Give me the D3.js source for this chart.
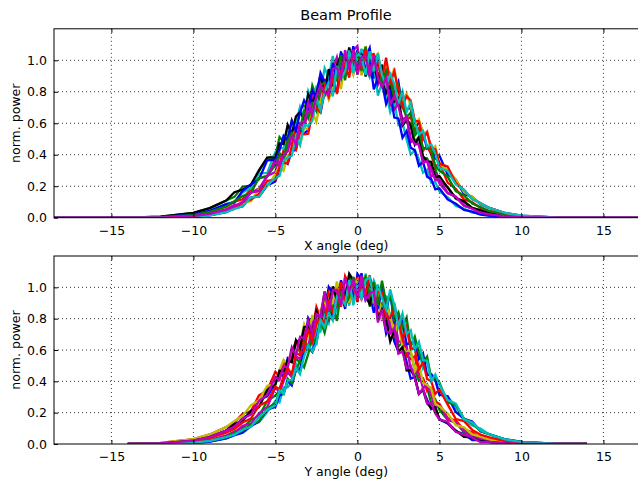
<!DOCTYPE html>
<html>
<head>
<meta charset="utf-8">
<script src="https://d3js.org/d3.v7.min.js"></script>
<style>
  body { margin: 0; background: #fff; }
  text { font-family: "DejaVu Sans", sans-serif; fill: #000; }
</style>
</head>
<body>
<div id="chart"></div>
<script>
var width = 638,
  height = 483;

// sample angles (deg) of each scan
var xAngles = [-18.5,-14,-12,-10,-9,-8,
  -7.5,-7,-6.5,-6,-5.5,-5,-4.75,-4.5,-4.25,-4,-3.75,-3.5,-3.25,-3,-2.75,-2.5,-2.25,-2,-1.75,-1.5,-1.25,-1,-0.75,-0.5,-0.25,
  0,0.25,0.5,0.75,1,1.25,1.5,1.75,2,2.25,2.5,2.75,3,3.25,3.5,3.75,4,4.25,4.5,4.75,5,5.5,6,6.5,7,7.5,
  8,9,10,12,14,18.5];
var yAngles = [-14,-12,-10,-9,-8,
  -7.5,-7,-6.5,-6,-5.5,-5,-4.75,-4.5,-4.25,-4,-3.75,-3.5,-3.25,-3,-2.75,-2.5,-2.25,-2,-1.75,-1.5,-1.25,-1,-0.75,-0.5,-0.25,
  0,0.25,0.5,0.75,1,1.25,1.5,1.75,2,2.25,2.5,2.75,3,3.25,3.5,3.75,4,4.25,4.5,4.75,5,5.5,6,6.5,7,7.5,
  8,9,10,12,14];

var angleTicks = [-15, -10, -5, 0, 5, 10, 15];
var powerTicks = [0, 0.2, 0.4, 0.6, 0.8, 1.0];

// matplotlib classic cycle: b g r c m y k
var lineColors = ['#0000ff', '#008000', '#ff0000', '#00bfbf', '#bf00bf', '#bfbf00', '#000000'];

// normalised power of each scan, X axis
var xScans = [
  [0,0,.001,.006,.015,.036, .061,.072,.128,.134,.204,.23,.31,.362,.342,.424,.43,.558,.536,.556,.672,.761,.667,.799,.876,.816,.806,.972,1.042,.95,.92,1.065,.955,1.02,1.079,.885,1.0,.863,.97,.892,.797,.863,.697,.689,.697,.561,.611,.538,.439,.456,.374,.395,.274,.242,.151,.133,.086, .064,.03,.013,.002,0,0],
  [0,.001,.007,.031,.061,.109, .132,.198,.202,.295,.381,.391,.513,.482,.507,.616,.559,.689,.712,.679,.84,.77,.892,.781,.922,.97,.879,1.056,.936,.968,1.066,.91,1.042,1.076,.901,.969,.872,.95,.826,.871,.702,.742,.587,.621,.597,.478,.513,.381,.377,.315,.309,.234,.196,.12,.099,.061,.049, .029,.011,.004,0,0,0],
  [0,0,.003,.017,.037,.072, .102,.117,.182,.252,.264,.375,.341,.429,.513,.457,.568,.567,.568,.718,.725,.712,.856,.77,.902,.799,.985,.965,.917,1.069,.922,.975,1.068,.907,1.032,1.039,.904,.945,.80,.92,.794,.803,.792,.622,.64,.549,.57,.426,.455,.401,.319,.349,.223,.184,.116,.098,.062, .044,.019,.007,.001,0,0],
  [0,0,.004,.021,.044,.086, .102,.161,.188,.282,.285,.418,.448,.438,.576,.535,.593,.703,.623,.804,.74,.831,.796,.951,.889,1.028,.87,1.022,.945,1.065,1.023,.928,1.074,.942,.893,.973,.776,.858,.793,.671,.741,.589,.604,.496,.403,.428,.37,.286,.305,.222,.226,.167,.131,.075,.058,.032,.027, .013,.004,.001,0,0,0],
  [0,0,.001,.01,.024,.053, .081,.086,.159,.185,.265,.29,.40,.37,.45,.521,.465,.598,.579,.678,.78,.715,.772,.883,.78,.945,1.02,.887,.998,.945,1.065,1.09,.906,1.03,.944,1.01,.843,.898,.904,.753,.687,.725,.624,.641,.479,.497,.464,.366,.361,.26,.284,.218,.155,.133,.078,.059,.03, .022,.008,.003,0,0,0],
  [0,0,.001,.009,.02,.044, .06,.093,.105,.181,.196,.278,.333,.299,.397,.407,.513,.46,.572,.561,.674,.608,.739,.833,.75,.823,.921,.817,1.003,1.003,.908,1.012,.907,1.09,.952,1.011,1.041,.884,.972,.873,.951,.788,.728,.79,.709,.589,.625,.536,.544,.43,.454,.342,.303,.243,.162,.132,.088, .064,.029,.012,.002,0,0],
  [0,.001,.007,.031,.061,.109, .162,.178,.209,.302,.381,.381,.472,.468,.59,.534,.642,.672,.624,.785,.735,.787,.909,.803,.944,.835,.97,1.034,.936,1.081,.975,.932,1.042,.896,1.037,.969,.872,.972,.791,.836,.737,.76,.587,.621,.584,.465,.513,.391,.357,.355,.256,.264,.191,.125,.104,.063,.047, .029,.011,.004,0,0,0],
  [0,0,.004,.021,.044,.086, .097,.171,.211,.244,.365,.368,.428,.52,.493,.618,.552,.668,.746,.699,.81,.76,.919,.86,.844,.983,.87,1.045,1.013,.952,1.09,.928,1.029,.942,1.006,.815,.889,.858,.722,.794,.636,.631,.508,.551,.444,.428,.33,.356,.26,.245,.18,.187,.116,.088,.05,.038,.019, .013,.004,.001,0,0,0],
  [0,0,.003,.017,.037,.072, .104,.137,.157,.252,.264,.335,.411,.379,.486,.539,.499,.567,.678,.63,.725,.677,.839,.858,.789,.912,.872,1.032,.872,1.047,.967,1.043,.932,1.087,.942,.948,1.017,.832,.935,.875,.759,.838,.704,.64,.667,.522,.557,.44,.445,.431,.329,.299,.261,.169,.141,.09,.068, .044,.019,.007,.001,0,0],
  [0,0,.001,.009,.02,.044, .055,.098,.115,.151,.234,.24,.323,.349,.347,.457,.43,.542,.53,.534,.661,.696,.668,.833,.768,.894,.786,.93,.98,.89,1.066,.966,.952,1.068,.907,1.033,.996,.884,1.017,.851,.929,.805,.711,.772,.744,.616,.611,.495,.544,.444,.434,.342,.325,.22,.177,.117,.094, .064,.029,.012,.002,0,0],
  [0,0,.001,.006,.015,.036, .056,.072,.128,.134,.209,.252,.265,.362,.382,.394,.513,.462,.591,.583,.616,.761,.684,.799,.858,.771,.964,.882,.929,1.063,.92,1.042,1.023,.907,1.057,.93,1.045,.908,.834,.914,.85,.723,.803,.672,.732,.602,.529,.552,.452,.466,.404,.315,.297,.211,.176,.118,.092, .064,.03,.013,.002,0,0],
  [0,0,.001,.01,.024,.053, .071,.101,.159,.17,.265,.36,.33,.40,.42,.521,.465,.598,.606,.73,.657,.768,.843,.795,.78,.945,.953,.887,1.065,.945,1.065,.91,1.019,1.03,.899,1.032,.888,.83,.887,.718,.775,.708,.597,.641,.506,.469,.464,.346,.361,.31,.238,.241,.16,.133,.076,.057,.032, .022,.008,.003,0,0,0]
];

// normalised power of each scan, Y axis
var yScans = [
  [0,.004,.021,.044,.086, .107,.166,.195,.282,.305,.388,.468,.424,.549,.535,.648,.668,.623,.804,.757,.848,.796,.838,1.002,.961,.892,1.045,.967,1.042,.91,1.086,1.052,.92,.961,.837,.956,.858,.705,.777,.653,.589,.618,.524,.417,.428,.32,.346,.283,.222,.233,.157,.131,.08,.063,.025,.027, .013,.004,.001,0,0],
  [0,.001,.01,.024,.053, .079,.101,.154,.18,.273,.31,.34,.43,.45,.439,.548,.515,.661,.625,.692,.82,.737,.848,.915,.81,.998,.932,.93,1.08,.929,1.045,.973,1.053,.877,1.032,.866,.898,.781,.823,.793,.62,.652,.558,.589,.469,.404,.416,.361,.26,.284,.218,.155,.138,.073,.057,.04, .022,.008,.003,0,0],
  [.001,.007,.031,.061,.109, .137,.193,.209,.31,.341,.461,.43,.524,.494,.589,.655,.584,.729,.714,.717,.875,.804,.894,.967,.857,.992,.876,1.071,1.014,.953,1.068,.929,.963,1.059,.991,.827,.837,.897,.819,.685,.777,.692,.566,.542,.561,.43,.421,.337,.355,.271,.257,.166,.15,.091,.076,.036, .029,.011,.004,0,0],
  [0,.001,.006,.015,.036, .056,.074,.123,.139,.204,.275,.265,.362,.362,.394,.513,.462,.578,.611,.589,.744,.719,.816,.77,.951,.851,.95,1.02,.883,1.033,.929,.977,1.087,.944,1.043,.978,.841,.947,.801,.902,.775,.715,.76,.592,.63,.598,.483,.535,.416,.404,.315,.305,.234,.151,.118,.099, .064,.03,.013,.002,0],
  [0,.001,.01,.024,.053, .073,.116,.129,.195,.235,.36,.33,.40,.46,.425,.561,.542,.634,.607,.78,.785,.772,.883,.78,.923,.885,1.023,1.02,.90,1.065,.977,.928,1.075,.922,.965,.979,.785,.869,.735,.81,.655,.652,.627,.479,.469,.454,.356,.381,.31,.231,.249,.155,.138,.086,.046,.038, .022,.008,.003,0,0],
  [.001,.007,.031,.061,.109, .147,.178,.247,.279,.371,.381,.472,.537,.507,.603,.573,.636,.764,.697,.823,.735,.857,.916,.831,.902,1.037,.921,1.049,.901,1.021,1.045,.929,1.076,.946,.901,.985,.792,.879,.819,.702,.777,.622,.593,.597,.465,.513,.391,.377,.355,.256,.241,.196,.12,.106,.061,.047, .029,.011,.004,0,0],
  [0,.004,.021,.044,.086, .127,.146,.211,.236,.345,.378,.468,.465,.535,.522,.662,.615,.746,.752,.705,.848,.796,.973,.889,1.006,.915,1.0,.922,1.087,1.045,.906,1.052,.942,.893,.995,.798,.858,.793,.654,.724,.589,.618,.469,.472,.428,.32,.346,.26,.229,.233,.157,.136,.086,.045,.043,.017, .013,.004,.001,0,0],
  [0,.001,.006,.015,.036, .056,.072,.113,.144,.219,.237,.31,.322,.402,.374,.472,.475,.591,.625,.589,.673,.79,.746,.893,.793,.919,.972,.862,1.041,.943,.974,1.09,.929,1.034,.998,.865,.999,.857,.959,.779,.811,.785,.637,.644,.657,.542,.579,.439,.446,.414,.315,.305,.204,.161,.143,.081, .064,.03,.013,.002,0],
  [0,.001,.009,.02,.044, .068,.085,.125,.146,.226,.262,.333,.319,.417,.387,.472,.529,.489,.575,.674,.643,.791,.71,.821,.876,.786,.975,.89,.935,1.066,.921,1.02,1.068,.952,1.033,.883,1.042,.904,.964,.793,.841,.746,.807,.621,.685,.583,.522,.558,.417,.424,.392,.265,.251,.162,.132,.083, .064,.029,.012,.002,0],
  [0,.003,.017,.037,.072, .096,.137,.162,.245,.271,.365,.351,.429,.486,.443,.581,.567,.595,.735,.654,.765,.821,.753,.925,.844,.894,1.032,.894,1.024,1.013,.908,1.068,.952,1.077,.903,.972,.967,.80,.807,.865,.786,.669,.745,.612,.605,.474,.522,.415,.401,.319,.349,.253,.159,.146,.09,.06, .044,.019,.007,.001,0],
  [0,.001,.009,.02,.044, .06,.091,.11,.171,.219,.247,.343,.319,.407,.407,.486,.446,.558,.63,.592,.643,.791,.745,.838,.788,.944,.93,.89,1.048,.886,1.012,.929,1.045,1.065,.898,1.018,.929,.859,.986,.884,.753,.834,.702,.726,.603,.652,.536,.531,.403,.444,.382,.28,.258,.157,.137,.088, .064,.029,.012,.002,0],
  [0,.004,.021,.044,.086, .112,.161,.188,.274,.315,.428,.408,.493,.493,.618,.566,.685,.675,.787,.705,.831,.814,.973,.844,.983,.983,.887,1.058,.974,1.045,.928,1.074,.92,.961,.973,.776,.858,.722,.706,.741,.576,.591,.482,.499,.418,.32,.356,.26,.26,.195,.157,.141,.078,.058,.043,.012, .013,.004,.001,0,0]
];

var svg = d3
  .select('#chart')
  .append('svg')
  .attr('width', width)
  .attr('height', height);

svg.append('text')
  .attr('x', 346)
  .attr('y', 20)
  .attr('text-anchor', 'middle')
  .style('font-size', '14.5px')
  .text('Beam Profile');

drawPanel({ id: 'px', top: 28.8, bottom: 217.7, xs: xAngles, scans: xScans, label: 'X angle (deg)', labelY: 249.5 });
drawPanel({ id: 'py', top: 256, bottom: 444, xs: yAngles, scans: yScans, label: 'Y angle (deg)', labelY: 475.5 });

function drawPanel(p) {
  var left = 54, right = 639.5;
  var x = d3.scaleLinear().domain([-18.5, 17.2]).range([left, right]);
  var y = d3.scaleLinear().domain([0, 1.2]).range([p.bottom, p.top]);

  var g = svg.append('g');

  g.append('clipPath')
    .attr('id', 'clip-' + p.id)
    .append('rect')
    .attr('x', left)
    .attr('y', p.top)
    .attr('width', right - left)
    .attr('height', p.bottom - p.top);

  // scans, one line each, colours cycle like matplotlib
  var line = d3.line()
    .x(function(d, i) { return x(p.xs[i]); })
    .y(function(d) { return y(d); });

  g.append('g')
    .attr('clip-path', 'url(#clip-' + p.id + ')')
    .selectAll('path')
    .data(p.scans)
    .join('path')
    .attr('d', line)
    .attr('fill', 'none')
    .attr('stroke-width', 2.3)
    .attr('stroke', function(d, i) { return lineColors[i % lineColors.length]; });

  // dotted grid on top of the data (classic style)
  var grid = g.append('g')
    .attr('stroke', '#000')
    .attr('stroke-width', 0.8)
    .attr('stroke-dasharray', '1,3');

  grid.selectAll('.vg')
    .data(angleTicks)
    .join('line')
    .attr('x1', d => x(d)).attr('x2', d => x(d))
    .attr('y1', p.top).attr('y2', p.bottom);

  grid.selectAll('.hg')
    .data(powerTicks.slice(1))
    .join('line')
    .attr('x1', left).attr('x2', right)
    .attr('y1', d => y(d)).attr('y2', d => y(d));

  // axes, ticks pointing inward
  g.append('g')
    .attr('transform', 'translate(0,' + p.bottom + ')')
    .call(d3.axisBottom(x).tickValues(angleTicks).tickSizeInner(-4).tickSizeOuter(0).tickPadding(8));

  g.append('g')
    .attr('transform', 'translate(0,' + p.top + ')')
    .call(d3.axisTop(x).tickValues(angleTicks).tickSizeInner(-4).tickSizeOuter(0).tickFormat(''));

  g.append('g')
    .attr('transform', 'translate(' + left + ',0)')
    .call(d3.axisLeft(y).tickValues(powerTicks).tickFormat(d3.format('.1f')).tickSizeInner(-4).tickSizeOuter(0).tickPadding(7));

  g.selectAll('.domain').remove();
  g.selectAll('.tick line').attr('stroke', '#000');
  g.selectAll('.tick text')
    .style('font-size', '12.5px')
    .style('font-family', '"DejaVu Sans", sans-serif')
    .attr('fill', '#000');

  // frame
  g.append('rect')
    .attr('x', left)
    .attr('y', p.top)
    .attr('width', right - left)
    .attr('height', p.bottom - p.top)
    .attr('fill', 'none')
    .attr('stroke', '#000')
    .attr('stroke-width', 1);

  g.append('text')
    .attr('x', (left + right) / 2 - 0.5)
    .attr('y', p.labelY)
    .attr('text-anchor', 'middle')
    .style('font-size', '12.5px')
    .text(p.label);

  g.append('text')
    .attr('transform', 'translate(19.5,' + (p.top + p.bottom) / 2 + ') rotate(-90)')
    .attr('text-anchor', 'middle')
    .style('font-size', '12.5px')
    .text('norm. power');
}
</script>
</body>
</html>
